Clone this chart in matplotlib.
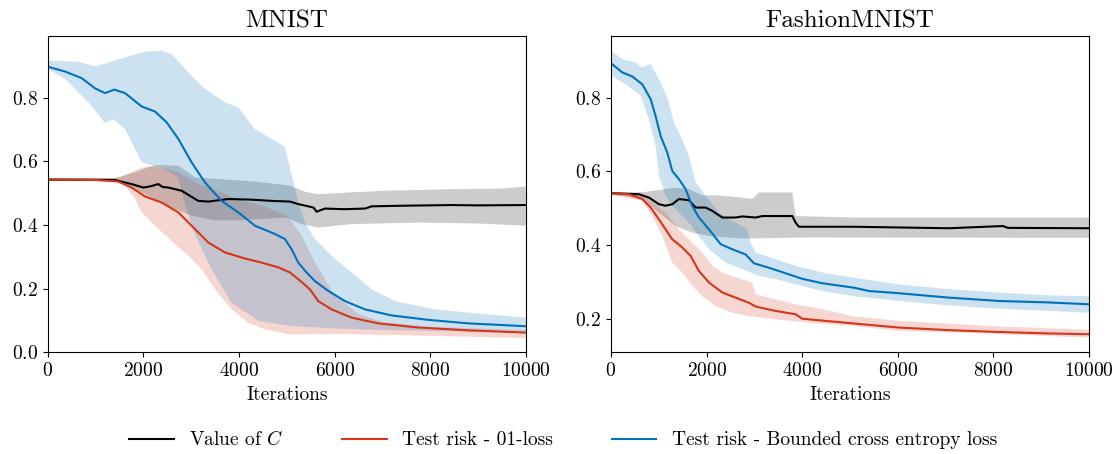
import matplotlib
matplotlib.use('Agg')
import matplotlib.pyplot as plt
import numpy as np

plt.rcParams['font.family'] = 'cmr10'
plt.rcParams['mathtext.fontset'] = 'cm'
plt.rcParams['axes.formatter.use_mathtext'] = True

# ---- MNIST ----
mn_c_x = [0, 1400, 1478, 1756, 2000, 2150, 2314, 2400, 2523, 2802, 3150, 3360, 3778, 4266, 4700, 5067,
          5241, 5450, 5560, 5624, 5798, 6200, 6635, 6700, 6774, 7471, 8447, 9000, 10000]
mn_c = [0.543, 0.542, 0.539, 0.529, 0.518, 0.522, 0.529, 0.520, 0.518, 0.508, 0.476, 0.474, 0.482, 0.480,
        0.476, 0.474, 0.466, 0.459, 0.455, 0.442, 0.452, 0.450, 0.452, 0.455, 0.459, 0.461, 0.463, 0.462, 0.463]
mn_c_up_x = [0, 1400, 1800, 2244, 2732, 3081, 3569, 4405, 5067, 5380, 5659, 6356, 7053, 8447, 9500, 10000]
mn_c_up = [0.546, 0.548, 0.565, 0.589, 0.587, 0.550, 0.545, 0.536, 0.524, 0.505, 0.497, 0.503, 0.508,
           0.513, 0.515, 0.521]
mn_c_lo_x = [0, 1400, 1756, 2000, 2500, 3000, 3500, 4000, 4962, 5310, 5659, 6356, 7750, 9000, 10000]
mn_c_lo = [0.540, 0.538, 0.520, 0.500, 0.460, 0.430, 0.415, 0.415, 0.424, 0.403, 0.392, 0.403, 0.408,
           0.405, 0.398]

mn_b_x = [0, 362, 711, 990, 1200, 1394, 1617, 1966, 2244, 2488, 2732, 3011, 3290, 3638, 3987, 4335, 4753,
          4962, 5101, 5241, 5415, 5589, 5868, 6217, 6635, 7192, 7959, 8795, 10000]
mn_b = [0.898, 0.883, 0.862, 0.830, 0.815, 0.826, 0.815, 0.773, 0.757, 0.723, 0.671, 0.597, 0.534, 0.476,
        0.440, 0.398, 0.372, 0.356, 0.324, 0.282, 0.251, 0.224, 0.193, 0.161, 0.135, 0.116, 0.102, 0.091, 0.082]
mn_b_up_x = [0, 641, 990, 1338, 1687, 2035, 2384, 2593, 2941, 3290, 3708, 3987, 4335, 4753, 4962, 5067,
             5241, 5380, 5589, 5938, 6356, 6774, 7262, 8098, 8795, 10000]
mn_b_up = [0.917, 0.914, 0.899, 0.914, 0.931, 0.945, 0.949, 0.938, 0.880, 0.828, 0.786, 0.770, 0.702,
           0.665, 0.645, 0.580, 0.471, 0.408, 0.356, 0.303, 0.251, 0.198, 0.161, 0.135, 0.125, 0.109]
mn_b_lo_x = [0, 362, 850, 1200, 1373, 1617, 1966, 2400, 2732, 2900, 3081, 3429, 3847, 4405, 5067, 6000,
             7000, 8500, 10000]
mn_b_lo = [0.891, 0.860, 0.786, 0.721, 0.733, 0.702, 0.597, 0.580, 0.550, 0.450, 0.370, 0.261, 0.156,
           0.099, 0.083, 0.075, 0.070, 0.066, 0.065]

mn_r_x = [0, 1000, 1478, 1756, 2035, 2384, 2732, 3011, 3360, 3708, 4126, 4475, 4823, 5067, 5241, 5485,
          5659, 5938, 6356, 6914, 7750, 8795, 10000]
mn_r = [0.543, 0.542, 0.537, 0.518, 0.490, 0.471, 0.440, 0.398, 0.345, 0.314, 0.295, 0.282, 0.267, 0.251,
        0.230, 0.198, 0.161, 0.135, 0.109, 0.091, 0.078, 0.069, 0.062]
mn_r_up_x = [0, 1400, 1547, 1896, 2105, 2384, 2732, 3081, 3500, 4000, 4500, 5000, 5300, 5600, 6000, 6500,
             7000, 8000, 9000, 10000]
mn_r_up = [0.546, 0.547, 0.552, 0.576, 0.585, 0.581, 0.566, 0.534, 0.510, 0.480, 0.460, 0.430, 0.370,
           0.280, 0.180, 0.120, 0.095, 0.080, 0.075, 0.070]
mn_r_lo_x = [0, 1400, 1617, 1826, 1966, 2244, 2593, 2941, 3220, 3499, 3847, 4196, 4544, 5067, 6000, 7000,
             8500, 10000]
mn_r_lo = [0.540, 0.538, 0.524, 0.482, 0.440, 0.398, 0.350, 0.303, 0.261, 0.198, 0.135, 0.093, 0.072,
           0.056, 0.058, 0.055, 0.050, 0.045]

# ---- FashionMNIST ----
fm_c_x = [0, 586, 795, 1004, 1143, 1283, 1422, 1632, 1771, 1980, 2120, 2329, 2608, 2747, 3026, 3166, 3793,
          3863, 3933, 4142, 5083, 7071, 8200, 8300, 10000]
fm_c = [0.541, 0.538, 0.529, 0.511, 0.507, 0.511, 0.525, 0.522, 0.502, 0.502, 0.493, 0.475, 0.475, 0.478,
        0.475, 0.479, 0.479, 0.461, 0.450, 0.450, 0.450, 0.446, 0.452, 0.447, 0.446]
fm_c_up_x = [0, 700, 1353, 1632, 1911, 2259, 2957, 3096, 3793, 3863, 5083, 10000]
fm_c_up = [0.543, 0.544, 0.556, 0.552, 0.535, 0.535, 0.526, 0.543, 0.543, 0.479, 0.475, 0.475]
fm_c_lo_x = [0, 655, 1004, 1353, 1701, 2050, 2747, 4142, 10000]
fm_c_lo = [0.538, 0.525, 0.488, 0.452, 0.434, 0.425, 0.418, 0.421, 0.420]

fm_b_x = [0, 237, 446, 655, 830, 934, 1039, 1178, 1283, 1422, 1562, 1701, 1841, 2050, 2294, 2538, 2817,
          2991, 3305, 3654, 4002, 4421, 5083, 5397, 6025, 7071, 8117, 9163, 10000]
fm_b = [0.893, 0.868, 0.857, 0.836, 0.796, 0.750, 0.696, 0.651, 0.601, 0.579, 0.552, 0.506, 0.475, 0.443,
        0.403, 0.389, 0.375, 0.351, 0.339, 0.324, 0.309, 0.297, 0.285, 0.276, 0.270, 0.258, 0.249, 0.245, 0.240]
fm_b_up_x = [0, 237, 516, 655, 830, 1004, 1178, 1318, 1457, 1632, 1771, 1980, 2259, 2608, 2852, 2922, 3026,
             3445, 3863, 4491, 5083, 6025, 7071, 8117, 9163, 10000]
fm_b_up = [0.927, 0.904, 0.895, 0.881, 0.891, 0.850, 0.800, 0.732, 0.696, 0.642, 0.570, 0.534, 0.488,
           0.461, 0.443, 0.407, 0.380, 0.362, 0.344, 0.324, 0.312, 0.294, 0.281, 0.272, 0.264, 0.262]
fm_b_lo_x = [0, 307, 621, 795, 934, 1004, 1143, 1353, 1632, 1841, 2050, 2399, 2747, 3096, 3445, 3863, 4421,
             5083, 6025, 7071, 8117, 9163, 10000]
fm_b_lo = [0.859, 0.836, 0.805, 0.741, 0.669, 0.588, 0.534, 0.497, 0.461, 0.425, 0.389, 0.353, 0.335,
           0.317, 0.308, 0.294, 0.276, 0.262, 0.249, 0.237, 0.228, 0.222, 0.217]

fm_r_x = [0, 377, 655, 830, 1004, 1143, 1283, 1492, 1667, 1841, 2050, 2329, 2608, 2887, 3026, 3445, 3863,
          4002, 4491, 5083, 6025, 7071, 8117, 9163, 10000]
fm_r = [0.541, 0.538, 0.525, 0.502, 0.470, 0.443, 0.416, 0.394, 0.371, 0.330, 0.299, 0.272, 0.258, 0.244,
        0.234, 0.222, 0.213, 0.201, 0.195, 0.188, 0.177, 0.170, 0.165, 0.161, 0.159]
fm_r_up_x = [0, 655, 865, 1143, 1422, 1701, 1911, 2120, 2399, 2747, 2957, 3026, 3445, 3863, 4491, 5083,
             6025, 8117, 10000]
fm_r_up = [0.543, 0.534, 0.516, 0.488, 0.443, 0.407, 0.380, 0.344, 0.321, 0.308, 0.299, 0.267, 0.253,
           0.240, 0.225, 0.207, 0.195, 0.180, 0.171]
fm_r_lo_x = [0, 655, 865, 1074, 1283, 1492, 1701, 1911, 2190, 2538, 2887, 3445, 4142, 5083, 6025, 8117, 10000]
fm_r_lo = [0.538, 0.520, 0.479, 0.425, 0.353, 0.326, 0.290, 0.262, 0.235, 0.217, 0.208, 0.199, 0.190,
           0.181, 0.168, 0.159, 0.150]

black = 'black'
red = '#D5361A'
blue = '#0072BD'


def band(ax, xu, yu, xl, yl, color):
    px = np.concatenate([xu, xl[::-1]])
    py = np.concatenate([yu, yl[::-1]])
    ax.fill(px, py, color=color, alpha=0.2, lw=0)


fig, axes = plt.subplots(1, 2, figsize=(11.17, 4.54), dpi=100)
fig.subplots_adjust(left=0.0427, right=0.975, bottom=0.224, top=0.921, wspace=0.178)

panels = [
    ('MNIST', (0, 0.995),
     [(mn_c_x, mn_c, mn_c_up_x, mn_c_up, mn_c_lo_x, mn_c_lo, black),
      (mn_r_x, mn_r, mn_r_up_x, mn_r_up, mn_r_lo_x, mn_r_lo, red),
      (mn_b_x, mn_b, mn_b_up_x, mn_b_up, mn_b_lo_x, mn_b_lo, blue)]),
    ('FashionMNIST', (0.110, 0.967),
     [(fm_c_x, fm_c, fm_c_up_x, fm_c_up, fm_c_lo_x, fm_c_lo, black),
      (fm_r_x, fm_r, fm_r_up_x, fm_r_up, fm_r_lo_x, fm_r_lo, red),
      (fm_b_x, fm_b, fm_b_up_x, fm_b_up, fm_b_lo_x, fm_b_lo, blue)]),
]

labels = ['Value of $C$', 'Test risk - 01-loss', 'Test risk - Bounded cross entropy loss']

for ax, (title, ylim, series) in zip(axes, panels):
    for (x, y, xu, yu, xl, yl, col), lab in zip(series, labels):
        band(ax, np.array(xu), np.array(yu), np.array(xl), np.array(yl), col)
        ax.plot(x, y, color=col, lw=1.5, label=lab)
    ax.set_xlim(0, 10000)
    ax.set_ylim(*ylim)
    ax.set_xticks([0, 2000, 4000, 6000, 8000, 10000])
    ax.set_yticks([0.0, 0.2, 0.4, 0.6, 0.8] if title == 'MNIST' else [0.2, 0.4, 0.6, 0.8])
    ax.tick_params(labelsize=14)
    ax.set_xlabel('Iterations', fontsize=14)
    ax.set_title(title, fontsize=18)

handles, labs = axes[0].get_legend_handles_labels()
fig.legend(handles, labs, loc='center', bbox_to_anchor=(0.504, 0.031), ncol=3, frameon=False,
           fontsize=14, handlelength=2.3, columnspacing=3.0)

plt.savefig('out.png', dpi=100)
